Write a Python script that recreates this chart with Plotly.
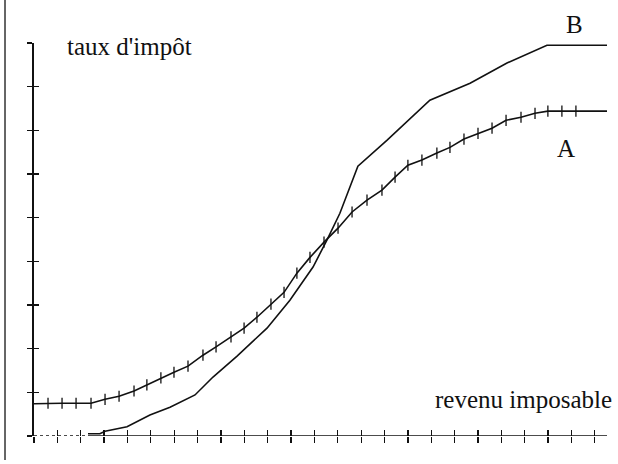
import plotly.graph_objects as go

# ---- data (axis units: one unit per tick) ----
A_x = [0.0, 0.60, 1.20, 1.80, 2.44, 3.04, 3.64, 4.28, 4.83, 5.43, 5.99, 6.59, 7.23,
       7.79, 8.43, 8.99, 9.54, 10.14, 10.70, 11.25, 11.81, 12.41, 13.01, 13.61,
       14.25, 14.89, 15.45, 16.00, 16.60, 17.24, 17.80, 18.40, 19.00, 19.60,
       20.20, 20.84, 21.44, 21.99, 22.59, 23.19, 24.60]
A_y = [0.74, 0.75, 0.75, 0.75, 0.75, 0.84, 0.91, 1.03, 1.17, 1.33, 1.46, 1.60, 1.85,
       2.04, 2.27, 2.47, 2.72, 3.02, 3.29, 3.73, 4.09, 4.44, 4.76, 5.13,
       5.40, 5.63, 5.93, 6.20, 6.32, 6.48, 6.61, 6.80, 6.93, 7.05,
       7.23, 7.30, 7.39, 7.44, 7.44, 7.44, 7.44]

B_x = [2.31, 2.82, 3.04, 3.98, 4.96, 5.82, 6.89, 7.66, 8.69, 9.97, 10.95, 11.94,
       12.54, 13.09, 13.86, 15.10, 16.94, 18.66, 20.24, 21.95, 24.60]
B_y = [0.05, 0.05, 0.11, 0.21, 0.48, 0.66, 0.94, 1.35, 1.83, 2.47, 3.11, 3.87,
       4.49, 5.10, 6.18, 6.77, 7.69, 8.08, 8.54, 8.95, 8.95]

x_ticks = list(range(0, 25))
y_ticks = list(range(0, 10))

y_label = "taux d'impôt"
x_label = "revenu imposable"
curve_labels = ["A", "B"]

X_MAX = 24.52
Y_MAX = 9.0
INK = "#111111"
FONT = "Liberation Serif"

fig = go.Figure()

# curve B (plain line)
fig.add_trace(go.Scatter(x=B_x, y=B_y, mode="lines",
                         line=dict(color=INK, width=1.6), showlegend=False,
                         hoverinfo="skip"))
# curve A line
fig.add_trace(go.Scatter(x=A_x, y=A_y, mode="lines",
                         line=dict(color=INK, width=1.6), showlegend=False,
                         hoverinfo="skip"))
# curve A tick markers
fig.add_trace(go.Scatter(x=A_x[1:-1], y=A_y[1:-1], mode="markers",
                         marker=dict(symbol="line-ns", size=8,
                                     line=dict(color=INK, width=1.3)),
                         showlegend=False, hoverinfo="skip"))
# dummy trace to create overlay axes (ticks on the other side)
fig.add_trace(go.Scatter(x=[None], y=[None], xaxis="x2", yaxis="y2",
                         showlegend=False, hoverinfo="skip"))

axis_common = dict(showgrid=False, zeroline=False, showticklabels=False)

fig.update_layout(
    width=618, height=464, autosize=False,
    margin=dict(l=34, r=11, t=43, b=28, pad=0),
    paper_bgcolor="white", plot_bgcolor="white",
    hovermode=False,
    xaxis=dict(range=[0, X_MAX], showline=False, tickmode="array",
               tickvals=x_ticks, ticks="outside", ticklen=6, tickwidth=1.3,
               tickcolor=INK, **axis_common),
    yaxis=dict(range=[0, Y_MAX], showline=True, linewidth=2, linecolor=INK,
               tickmode="array", tickvals=y_ticks, ticks="outside",
               ticklen=5, tickwidth=1.5, tickcolor=INK, **axis_common),
    xaxis2=dict(range=[0, X_MAX], overlaying="x", anchor="y", side="bottom",
                showline=False, tickmode="array", tickvals=x_ticks,
                ticks="inside", ticklen=6, tickwidth=1.3, tickcolor=INK,
                **axis_common),
    yaxis2=dict(range=[0, Y_MAX], overlaying="y", anchor="x", side="left",
                showline=False, tickmode="array", tickvals=y_ticks,
                ticks="inside", ticklen=5, tickwidth=1.5, tickcolor=INK,
                **axis_common),
)

# x axis baseline: dashed before curve B starts, solid afterwards
fig.add_shape(type="line", xref="x", yref="y", x0=0, x1=B_x[0], y0=0, y1=0,
              line=dict(color=INK, width=1.3, dash="3px,3px"), layer="above")
fig.add_shape(type="line", xref="x", yref="y", x0=B_x[0], x1=X_MAX, y0=0, y1=0,
              line=dict(color=INK, width=1.5), layer="above")

# left frame edge of the scanned figure
fig.add_shape(type="line", xref="paper", yref="paper",
              x0=-0.0506, x1=-0.0506, y0=-0.061, y1=1.12,
              line=dict(color="#333333", width=1.5))

font = dict(family=FONT, size=25, color=INK)
fig.add_annotation(x=1.33, y=8.91, xref="x", yref="y", text=y_label,
                   showarrow=False, xanchor="left", yanchor="middle", font=font)
fig.add_annotation(x=17.07, y=0.84, xref="x", yref="y", text=x_label,
                   showarrow=False, xanchor="left", yanchor="middle", font=font)
fig.add_annotation(x=22.76, y=6.58, xref="x", yref="y", text=curve_labels[0],
                   showarrow=False, xanchor="center", yanchor="middle", font=font)
# B sits above the top of the y range -> paper coordinates
fig.add_annotation(x=23.15 / X_MAX, y=9.42 / Y_MAX, xref="paper", yref="paper",
                   text=curve_labels[1], showarrow=False, xanchor="center",
                   yanchor="middle", font=font)

fig.write_html("out.html",
               config={"displayModeBar": False, "staticPlot": True},
               post_script="document.body.style.margin='0';"
                           "document.body.style.overflow='hidden';")
